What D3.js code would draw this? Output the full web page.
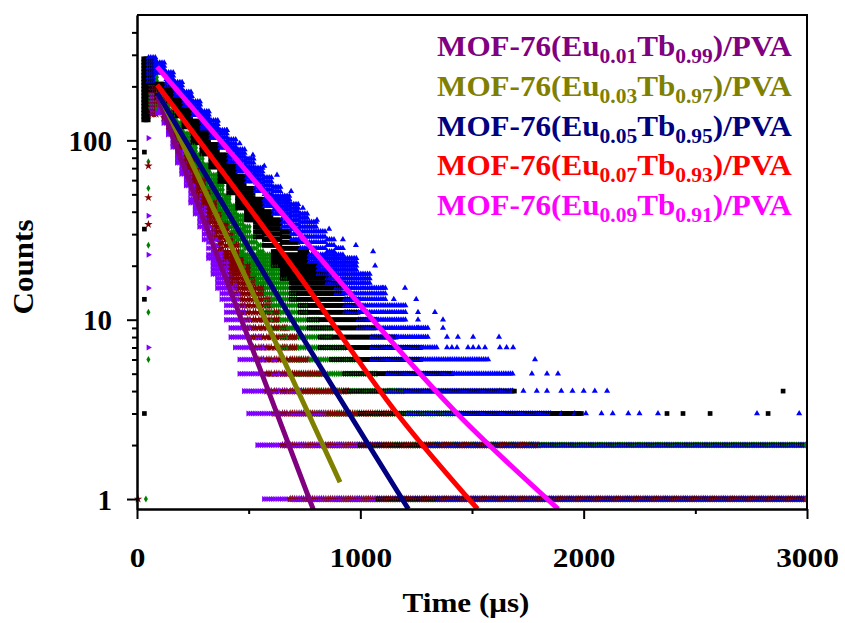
<!DOCTYPE html>
<meta charset="utf-8">
<style>
    body { margin: 0; background: #fff; }
    svg text { font-family: "Liberation Serif", "Times New Roman", serif; font-weight: bold; }
</style>
<body>
    <svg width="845" height="623"></svg>
</body>
<script src="https://cdnjs.cloudflare.com/ajax/libs/d3/7.8.5/d3.min.js"></script>
<script>

    // ---- DATA ----
    var xTicks = [0, 1000, 2000, 3000];
    var xMinor = [500, 1500, 2500];
    var yTicks = [1, 10, 100];
    var yMinor = [2, 3, 4, 5, 6, 7, 8, 9, 20, 30, 40, 50, 60, 70, 80, 90, 200, 300, 400];

    var euFrac = ["0.01", "0.03", "0.05", "0.07", "0.09"];
    var tbFrac = ["0.99", "0.97", "0.95", "0.93", "0.91"];

    // fitted decay curves, [time (us), counts]
    var fit001 = [[90, 178], [349, 24.5], [790, 0.87]];
    var fit003 = [[94, 186], [430, 24.5], [909, 1.24]];
    var fit005 = [[90, 185], [506, 24.5], [730, 8.4], [1215, 0.88]];
    var fit007 = [[90, 204], [730, 17.3], [1164, 3.0], [1525, 0.88]];
    var fit009 = [[90, 257], [439, 80], [788, 24.5], [1433, 3.0], [1886, 0.88]];

    // measured decays: [t start, t end, lowest count, highest count] of the channels in that time span
    var segBlack = [
        [30, 60, 130, 285], [60, 90, 190, 280], [90, 130, 168, 206], [130, 170, 160, 198],
        [170, 210, 136, 171], [210, 250, 115, 148], [250, 290, 97, 128], [290, 330, 83, 111],
        [330, 370, 69, 95], [370, 410, 58, 83], [410, 450, 49, 72], [450, 490, 41, 63],
        [490, 530, 35, 54], [530, 570, 29, 47], [570, 610, 25, 40], [610, 650, 20, 36],
        [650, 690, 17, 31], [690, 730, 13, 27], [730, 770, 11, 24], [770, 820, 9, 20],
        [820, 870, 7, 18], [870, 930, 6, 16], [930, 1000, 4, 13], [1000, 1080, 2, 10],
        [1080, 1170, 1, 8], [1170, 1280, 1, 7], [1280, 1420, 1, 5], [1420, 1700, 1, 4],
        [1700, 2000, 1, 3], [2000, 3000, 1, 2]
    ];
    var segBlue = [
        [50, 90, 210, 290], [90, 130, 229, 271], [130, 170, 200, 239], [170, 210, 174, 211],
        [210, 250, 152, 186], [250, 290, 133, 165], [290, 330, 115, 145], [330, 370, 101, 129],
        [370, 410, 88, 114], [410, 450, 76, 101], [450, 490, 66, 89], [490, 530, 58, 79],
        [530, 570, 50, 70], [570, 610, 43, 62], [610, 650, 38, 55], [650, 690, 33, 49],
        [690, 730, 28, 44], [730, 770, 25, 39], [770, 810, 21, 35], [810, 850, 18, 31],
        [850, 890, 16, 28], [890, 930, 14, 25], [930, 990, 11, 22], [990, 1050, 9, 18],
        [1050, 1120, 6, 15], [1120, 1210, 4, 12], [1210, 1310, 3, 9], [1310, 1350, 2, 7],
        [1350, 1580, 1, 6], [1580, 1690, 1, 5], [1690, 1860, 1, 3], [1860, 3000, 1, 2]
    ];
    var segGreen = [
        [55, 90, 150, 225], [90, 120, 152, 188], [120, 150, 131, 164], [150, 180, 112, 143],
        [180, 210, 96, 125], [210, 240, 83, 109], [240, 270, 71, 95], [270, 300, 60, 83],
        [300, 330, 51, 73], [330, 360, 44, 64], [360, 390, 37, 56], [390, 420, 32, 49],
        [420, 450, 27, 43], [450, 480, 23, 38], [480, 510, 19, 33], [510, 540, 16, 29],
        [540, 570, 14, 26], [570, 600, 11, 23], [600, 640, 9, 20], [640, 680, 7, 17],
        [680, 720, 5, 14], [720, 770, 4, 12], [770, 820, 3, 10], [820, 880, 2, 9],
        [880, 940, 1, 7], [940, 1000, 1, 6], [1000, 1080, 1, 5], [1080, 1200, 1, 4],
        [1200, 1450, 1, 3], [1450, 3000, 1, 2]
    ];
    var segWine = [
        [60, 90, 140, 200], [90, 115, 155, 191], [115, 140, 133, 167], [140, 165, 113, 144],
        [165, 190, 95, 124], [190, 215, 81, 107], [215, 240, 68, 93], [240, 265, 57, 80],
        [265, 290, 48, 69], [290, 315, 41, 60], [315, 340, 34, 52], [340, 365, 29, 45],
        [365, 390, 24, 39], [390, 415, 20, 34], [415, 440, 16, 30], [440, 465, 14, 26],
        [465, 490, 11, 22], [490, 515, 9, 20], [515, 540, 7, 17], [540, 575, 6, 15],
        [575, 610, 4, 13], [610, 645, 3, 11], [645, 680, 2, 9], [680, 720, 1, 8],
        [720, 770, 1, 6], [770, 840, 1, 5], [840, 950, 1, 4], [950, 1150, 1, 3],
        [1150, 1800, 1, 2], [1800, 3000, 1, 1]
    ];
    var segViolet = [
        [60, 80, 140, 195], [80, 110, 140, 185], [110, 130, 124, 156], [130, 150, 106, 135],
        [150, 170, 89, 116], [170, 190, 75, 100], [190, 210, 63, 87], [210, 230, 54, 75],
        [230, 250, 45, 65], [250, 270, 38, 56], [270, 290, 32, 49], [290, 310, 27, 42],
        [310, 330, 22, 37], [330, 350, 18, 32], [350, 370, 15, 28], [370, 390, 13, 24],
        [390, 410, 10, 21], [410, 430, 8, 18], [430, 450, 7, 16], [450, 470, 5, 14],
        [470, 490, 4, 12], [490, 510, 3, 10], [510, 530, 3, 9], [530, 560, 2, 8],
        [560, 590, 1, 7], [590, 630, 1, 6], [630, 680, 1, 5], [680, 740, 1, 4],
        [740, 850, 1, 3], [850, 1100, 1, 2], [1100, 3000, 1, 1]
    ];

    // single channels: rising edge and isolated points, [time, counts]
    var ptsBlack = [[33, 195], [33, 168], [33, 135], [33, 86], [33, 32], [33, 13], [33, 3],
        [2373, 3], [2445, 3], [2566, 3], [2826, 3], [2893, 4]];
    var ptsBlue = [[246, 176], [280, 160], [313, 144], [360, 128], [403, 114], [460, 96], [519, 83],
        [570, 72], [627, 64], [690, 52], [743, 42], [806, 36], [860, 32], [922, 28], [980, 26],
        [1057, 24], [1066, 20], [1100, 15], [1150, 13], [1200, 15], [1250, 13], [1258, 11], [1334, 11],
        [1258, 10], [1370, 10], [1258, 9], [1370, 9], [1388, 8], [1437, 8], [1505, 8], [1621, 8],
        [1388, 7], [1410, 7], [1433, 7], [1482, 7], [1505, 7], [1530, 7], [1558, 7], [1625, 7],
        [1655, 7], [1684, 7], [1782, 6], [1768, 5], [1836, 5], [1885, 5], [1625, 4], [1680, 4],
        [1730, 4], [1790, 4], [1836, 4], [1900, 4], [1950, 4], [2000, 4], [2050, 4], [2105, 4],
        [1900, 3], [1960, 3], [2010, 3], [2080, 3], [2130, 3], [2200, 3], [2250, 3], [2333, 3],
        [2776, 3], [2965, 3]];
    var ptsGreen = [[51, 76], [51, 54], [51, 26], [51, 11], [51, 6], [40, 1]];
    var ptsWine = [[51, 72], [51, 48], [51, 34], [5, 1]];
    var ptsViolet = [[51, 103], [51, 38], [51, 23], [51, 15], [51, 7]];

    // ---- CHART ----
    var svg = d3.select("svg"),
        width = +svg.attr("width"),
        height = +svg.attr("height");

    var x = d3.scaleLinear().domain([0, 3000]).range([137, 807]);
    var y = d3.scaleLog().domain([0.88, 500]).range([509, 15]);

    svg.append("rect").attr("width", width).attr("height", height).attr("fill", "#fff");

    svg.append("defs").append("clipPath").attr("id", "plot")
        .append("rect").attr("x", 130).attr("y", 15).attr("width", 677).attr("height", 494);

    // scatter symbols per series (black, blue, green, wine, violet)
    var colors = ["#000000", "#0000ff", "#008000", "#800000", "#8000ff"];
    var symbols = [
        d3.symbol().type(d3.symbolSquare).size(22)(),
        d3.symbol().type(d3.symbolTriangle).size(16)(),
        d3.symbol().type(d3.symbolDiamond).size(14)(),
        d3.symbol().type(d3.symbolStar).size(22)(),
        d3.symbol().type(d3.symbolTriangle).size(16)()
    ];
    var segments = [segBlack, segBlue, segGreen, segWine, segViolet];
    var singles = [ptsBlack, ptsBlue, ptsGreen, ptsWine, ptsViolet];

    var markers = [];
    segments.forEach(function(segs, i) {
        segs.forEach(function(s) {
            for (var t = s[0] + i * 2; t < s[1]; t += 10) {
                var last = null;
                for (var c = s[3]; c >= s[2]; c--) {
                    var py = y(c);
                    if (last === null || py - last >= 3.2) {
                        markers.push({t: t, c: c, s: i});
                        last = py;
                    }
                }
            }
        });
        singles[i].forEach(function(p) { markers.push({t: p[0], c: p[1], s: i}); });
    });
    markers.sort(function(a, b) { return a.t - b.t; });

    var plot = svg.append("g").attr("clip-path", "url(#plot)");

    plot.append("g").attr("class", "markers")
        .selectAll("path")
        .data(markers)
        .enter()
        .append("path")
        .attr("d", function(d) { return symbols[d.s]; })
        .attr("transform", function(d) {
            return "translate(" + x(d.t).toFixed(1) + "," + y(d.c).toFixed(1) + ")" + (d.s == 4 ? " rotate(90)" : "");
        })
        .attr("fill", function(d) { return colors[d.s]; });

    // fit lines
    var fits = [fit001, fit003, fit005, fit007, fit009];
    var fitColors = ["#800080", "#808000", "#000080", "#ff0000", "#ff00ff"];
    var line = d3.line()
        .x(function(d) { return x(d[0]); })
        .y(function(d) { return y(d[1]); })
        .curve(d3.curveMonotoneX);

    plot.append("g").attr("class", "fits")
        .selectAll("path")
        .data(fits)
        .enter()
        .append("path")
        .attr("d", line)
        .attr("fill", "none")
        .attr("stroke", function(d, i) { return fitColors[i]; })
        .attr("stroke-width", 5);

    // axes
    var xAxis = svg.append("g").attr("transform", "translate(0,509)")
        .call(d3.axisBottom(x).tickValues(xTicks).tickSize(10).tickSizeOuter(0).tickFormat(d3.format("d")));
    svg.append("g").attr("transform", "translate(0,509)")
        .call(d3.axisBottom(x).tickValues(xMinor).tickSize(5).tickSizeOuter(0).tickFormat(""));
    var yAxis = svg.append("g").attr("transform", "translate(137,0)")
        .call(d3.axisLeft(y).tickValues(yTicks).tickSize(10).tickSizeOuter(0).tickFormat(d3.format("d")));
    svg.append("g").attr("transform", "translate(137,0)")
        .call(d3.axisLeft(y).tickValues(yMinor).tickSize(5).tickSizeOuter(0).tickFormat(""));

    svg.selectAll(".domain").attr("stroke", "#000").attr("stroke-width", 2);
    svg.selectAll(".tick line").attr("stroke", "#000").attr("stroke-width", 2);

    xAxis.selectAll("text")
        .attr("y", 0).attr("dy", 0)
        .attr("transform", "translate(0,58) scale(1.12,1)")
        .attr("font-size", 28).attr("fill", "#000")
        .attr("font-family", "Liberation Serif").attr("font-weight", "bold");
    yAxis.selectAll("text")
        .attr("x", -25).attr("dy", 10)
        .attr("font-size", 29).attr("fill", "#000")
        .attr("font-family", "Liberation Serif").attr("font-weight", "bold");

    // frame top and right
    svg.append("path")
        .attr("d", "M137,15H807V509")
        .attr("fill", "none").attr("stroke", "#000").attr("stroke-width", 2);

    // stretch a text horizontally to a target width
    function stretch(g, target) {
        var w = g.select("text").node().getBBox().width;
        return target / w;
    }

    // axis titles
    var xt = svg.append("g");
    xt.append("text").attr("text-anchor", "middle").attr("font-size", 28).text("Time (μs)");
    xt.attr("transform", "translate(466,612) scale(" + stretch(xt, 127) + ",1)");

    var yt = svg.append("g");
    yt.append("text").attr("text-anchor", "middle").attr("font-size", 29).text("Counts");
    yt.attr("transform", "translate(33,267) rotate(-90) scale(" + stretch(yt, 95) + ",1)");

    // legend
    euFrac.forEach(function(eu, i) {
        var lg = svg.append("g");
        var t = lg.append("text").attr("font-size", 29).attr("fill", fitColors[i]);
        t.append("tspan").text("MOF-76(Eu");
        t.append("tspan").attr("font-size", 20).attr("dy", 7).text(eu);
        t.append("tspan").attr("dy", -7).text("Tb");
        t.append("tspan").attr("font-size", 20).attr("dy", 7).text(tbFrac[i]);
        t.append("tspan").attr("dy", -7).text(")/PVA");
        lg.attr("transform", "translate(437," + (56 + i * 39.8) + ") scale(" + stretch(lg, 355) + ",1)");
    });

</script>
